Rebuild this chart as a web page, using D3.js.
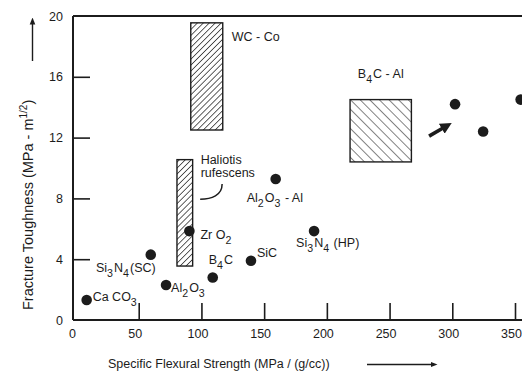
<!DOCTYPE html>
<html>
<head>
<meta charset="utf-8">
<script src="https://cdn.jsdelivr.net/npm/d3@7"></script>
<style>
  html, body { margin: 0; padding: 0; background: #fff; }
  svg { display: block; font-family: "Liberation Sans", Arial, sans-serif; }
</style>
</head>
<body>
<svg id="chart" width="522" height="373"></svg>
<script>
// Materials plotted as single points: specific flexural strength vs fracture toughness
const materials = ["Ca CO_3", "Si_3N_4(SC)", "Al_2O_3", "Zr O_2", "B_4C", "SiC", "Si_3N_4 (HP)", "Al_2O_3 - Al", "", "", ""];
const strength  = [8.5, 59.6, 71.8, 90.4, 109, 139.5, 189.8, 159.2, 302.2, 324.6, 354.5];
const toughness = [1.32, 4.3, 2.3, 5.85, 2.8, 3.9, 5.85, 9.28, 14.2, 12.4, 14.5];

// Materials plotted as property ranges (hatched boxes)
const rangeNames   = ["WC - Co", "Haliotis rufescens", "B_4C - Al"];
const rangeXMin    = [91.5, 80.5, 218.5];
const rangeXMax    = [117, 93, 267.4];
const rangeYMin    = [12.5, 3.55, 10.4];
const rangeYMax    = [19.55, 10.55, 14.5];

// Axis ticks
const xTicks = [0, 50, 100, 150, 200, 250, 300, 350];
const yTicks = [0, 4, 8, 12, 16, 20];

// Label placement relative to each point (pixels): [dx, dy, anchor]
const pointLabelLayout = [
  [6, -3, "start"], [5, 13, "end"], [5, 3, "start"], [11, 4, "start"],
  [-4, -17, "start"], [6, -8, "start"], [-18, 12, "start"], [-29, 19, "start"],
  [0, 0, "start"], [0, 0, "start"], [0, 0, "start"]
];

const svg = d3.select("#chart");
const ink = "#1c1c1c";

const x = d3.scaleLinear().domain([0, 350]).range([76, 515]);
const y = d3.scaleLinear().domain([0, 20]).range([320, 16]);
const axisX0 = 73;

// Hatch patterns
const defs = svg.append("defs");
function hatch(id, spacing, angle, width) {
  const p = defs.append("pattern")
    .attr("id", id)
    .attr("patternUnits", "userSpaceOnUse")
    .attr("width", spacing).attr("height", spacing)
    .attr("patternTransform", `rotate(${angle})`);
  p.append("rect").attr("width", spacing).attr("height", spacing).attr("fill", "#fff");
  p.append("line").attr("x1", 0).attr("y1", 0).attr("x2", 0).attr("y2", spacing)
    .attr("stroke", ink).attr("stroke-width", width);
}
hatch("hatchFwd", 4.2, 45, 1.4);
hatch("hatchBack", 6.8, -45, 1.1);

// Frame lines
svg.append("line").attr("x1", axisX0).attr("x2", 522).attr("y1", y(20)).attr("y2", y(20))
  .attr("stroke", ink).attr("stroke-width", 1.8);
svg.append("line").attr("x1", axisX0).attr("x2", 522).attr("y1", y(0)).attr("y2", y(0))
  .attr("stroke", ink).attr("stroke-width", 2);
svg.append("line").attr("x1", axisX0).attr("x2", axisX0).attr("y1", y(20)).attr("y2", y(0))
  .attr("stroke", ink).attr("stroke-width", 2);

// X axis: inward ticks
const gx = svg.append("g").attr("transform", `translate(0,${y(0)})`)
  .call(d3.axisBottom(x).tickValues(xTicks).tickSize(-17).tickPadding(9).tickFormat(d3.format("d")));
gx.select(".domain").remove();
gx.selectAll(".tick line").attr("stroke", ink).attr("stroke-width", 1.6)
  .filter(d => d === 0).remove();
gx.selectAll(".tick text").attr("fill", ink).attr("font-size", 12.5).attr("dx", -4);

// Y axis: inward ticks
const gy = svg.append("g").attr("transform", `translate(${axisX0},0)`)
  .call(d3.axisLeft(y).tickValues(yTicks).tickSize(-17).tickPadding(10).tickFormat(d3.format("d")));
gy.select(".domain").remove();
gy.selectAll(".tick line").attr("stroke", ink).attr("stroke-width", 1.6)
  .filter(d => d === 0 || d === 20).remove();
gy.selectAll(".tick text").attr("fill", ink).attr("font-size", 12.5);

// Text with "_n" subscripts
function richText(sel, str, size) {
  const parts = str.split(/(_\d)/).filter(s => s.length);
  parts.forEach(p => {
    if (p[0] === "_") {
      sel.append("tspan").attr("font-size", size * 0.85).attr("dy", 5).text(p.slice(1));
      sel.append("tspan").attr("dy", -5).text("\u200A");
    } else {
      sel.append("tspan").text(p);
    }
  });
}

// Hatched range boxes
const ranges = rangeNames.map((n, i) => ({
  name: n, x0: rangeXMin[i], x1: rangeXMax[i], y0: rangeYMin[i], y1: rangeYMax[i],
  fill: i === 2 ? "url(#hatchBack)" : "url(#hatchFwd)"
}));
svg.append("g").selectAll("rect").data(ranges).join("rect")
  .attr("x", d => x(d.x0)).attr("y", d => y(d.y1))
  .attr("width", d => x(d.x1) - x(d.x0)).attr("height", d => y(d.y0) - y(d.y1))
  .attr("fill", d => d.fill).attr("stroke", ink).attr("stroke-width", 1.4);

// Range labels
const wc = svg.append("text").attr("x", x(rangeXMax[0]) + 9).attr("y", y(18.35))
  .attr("fill", ink).attr("font-size", 12.5);
richText(wc, rangeNames[0], 12.5);

const bal = svg.append("text").attr("x", (x(rangeXMin[2]) + x(rangeXMax[2])) / 2).attr("y", y(15.95))
  .attr("text-anchor", "middle").attr("fill", ink).attr("font-size", 12.5);
richText(bal, rangeNames[2], 12.5);

const hal = svg.append("text").attr("fill", ink).attr("font-size", 12.5);
rangeNames[1].split(" ").forEach((w, i) => {
  hal.append("tspan").attr("x", x(rangeXMax[1]) + 8).attr("y", y(10.5) + 4 + i * 12.5).text(w);
});
// Leader from the Haliotis label to its box
svg.append("path")
  .attr("d", `M${x(116.5)},${y(8.95)} C${x(116.5)},${y(8.2)} ${x(108)},${y(7.95)} ${x(99)},${y(7.95)}`)
  .attr("fill", "none").attr("stroke", ink).attr("stroke-width", 1.5);

// Points
const pts = materials.map((m, i) => ({ name: m, sx: strength[i], ty: toughness[i], lay: pointLabelLayout[i] }));
svg.append("g").selectAll("circle").data(pts).join("circle")
  .attr("cx", d => x(d.sx)).attr("cy", d => y(d.ty)).attr("r", 5.3).attr("fill", ink);

pts.filter(d => d.name).forEach(d => {
  const t = svg.append("text")
    .attr("x", x(d.sx) + d.lay[0]).attr("y", y(d.ty) + d.lay[1] + 4)
    .attr("text-anchor", d.lay[2]).attr("fill", ink).attr("font-size", 12.5);
  richText(t, d.name, 12.5);
});

// Pointer arrow toward the high-strength B4C-Al points
defs.append("marker").attr("id", "fatHead").attr("viewBox", "0 0 10 10")
  .attr("refX", 3).attr("refY", 5).attr("markerWidth", 3.2).attr("markerHeight", 3.2)
  .attr("orient", "auto").attr("markerUnits", "strokeWidth")
  .append("path").attr("d", "M0,0 L10,5 L0,10 Z").attr("fill", ink);
svg.append("line")
  .attr("x1", x(281.5)).attr("y1", y(12.1)).attr("x2", x(294)).attr("y2", y(12.7))
  .attr("stroke", ink).attr("stroke-width", 3.6).attr("marker-end", "url(#fatHead)");

// Axis titles with direction arrows
defs.append("marker").attr("id", "thinHead").attr("viewBox", "0 0 10 10")
  .attr("refX", 5).attr("refY", 5).attr("markerWidth", 5).attr("markerHeight", 5)
  .attr("orient", "auto").attr("markerUnits", "strokeWidth")
  .append("path").attr("d", "M0,1 L10,5 L0,9 Z").attr("fill", ink);

svg.append("text").attr("x", 108).attr("y", 368).attr("fill", ink).attr("font-size", 12.5)
  .text("Specific Flexural Strength (MPa / (g/cc))");
svg.append("line").attr("x1", 367).attr("x2", 434).attr("y1", 364.5).attr("y2", 364.5)
  .attr("stroke", ink).attr("stroke-width", 1.4).attr("marker-end", "url(#thinHead)");

const yt = svg.append("text").attr("transform", "translate(33,310) rotate(-90)")
  .attr("fill", ink).attr("font-size", 14.5);
yt.append("tspan").text("Fracture Toughness (MPa - m");
yt.append("tspan").attr("font-size", 10).attr("dy", -6).text("1/2");
yt.append("tspan").attr("dy", 6).text(")");
svg.append("line").attr("x1", 32.5).attr("x2", 32.5).attr("y1", 61).attr("y2", 21)
  .attr("stroke", ink).attr("stroke-width", 1.4).attr("marker-end", "url(#thinHead)");
</script>
</body>
</html>
